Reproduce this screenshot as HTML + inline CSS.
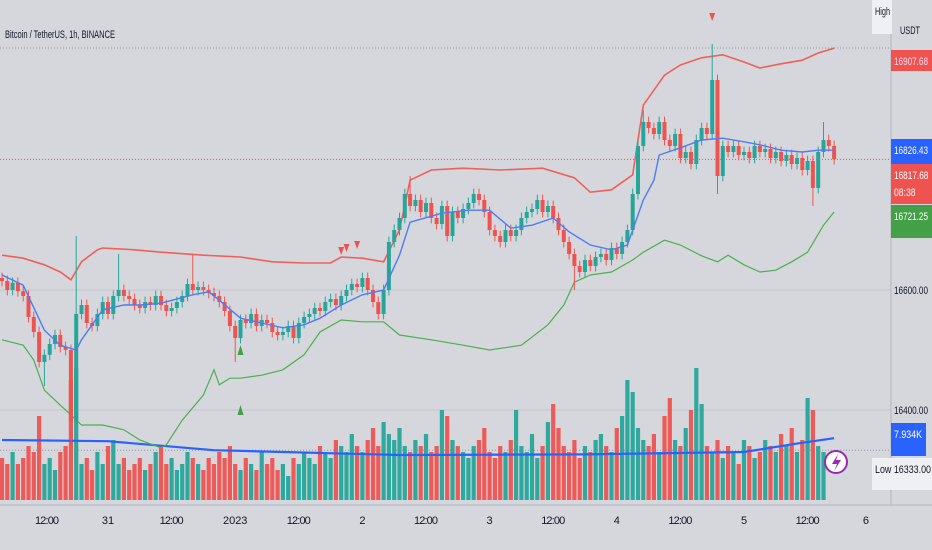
<!DOCTYPE html>
<html><head><meta charset="utf-8"><style>
body{margin:0;background:#d5d7dd;font-family:"Liberation Sans",sans-serif;}
#wrap{position:relative;width:932px;height:550px;overflow:hidden;background:#d5d7dd;}
svg text{font-family:"Liberation Sans",sans-serif;}
</style></head><body>
<div id="wrap">
<svg id="svg" width="932" height="550"></svg>
</div>
<script>
const closes=[16615,16600,16612,16598,16590,16555,16530,16480,16492,16510,16525,16505,16500,16380,16560,
16575,16545,16540,16560,16580,16560,16590,16600,
16590,16585,16575,16570,16580,16575,16590,16575,
16565,16570,16580,16590,16610,16600,16605,
16600,16595,16590,16580,16565,16540,16520,
16550,16545,16560,16540,16550,16545,16530,16525,
16530,16540,16520,16545,16555,16560,16570,16565,
16580,16585,16575,16590,16600,16610,16605,16620,
16600,16580,16560,16600,16680,
16700,16720,16760,16740,16750,16730,16745,
16720,16710,16740,16690,16730,16720,16735,16745,
16760,16750,16730,16700,16690,16680,16700,
16690,16700,16720,16730,16735,16750,16730,16740,
16720,16700,16680,16660,16640,16630,16650,16640,
16655,16660,16650,16670,16660,16680,16700,
16760,16840,16880,
16870,16860,16880,16850,16840,16860,16820,16830,16810,
16850,16870,16860,16950,16790,16840,
16830,16840,16825,16830,16820,16840,16830,16835,16820,16830,16815,16825,
16810,16820,16800,16815,16770,16830,16850,16840,16818];
const firstOpen=16620;
const spikeHigh={14:16690,22:16660,36:16660,77:16790,121:16900,134:17010,155:16880};
const spikeLow={13:16330,8:16440,44:16480,135:16760,153:16740,108:16600};
const volumes=[7,6,8,6,7,9,8,14,6,7,5,8,9,20,22,6,7,5,8,6,9,10,6,7,5,6,7,5,6,8,9,6,7,5,6,8,7,6,5,7,6,8,7,9,6,
5,7,6,5,8,6,7,5,6,4,7,6,8,7,6,9,8,7,10,9,8,11,9,8,10,12,9,13,11,
10,12,9,8,10,9,11,8,9,15,14,10,9,8,7,9,10,12,8,7,9,8,10,15,9,8,11,7,9,13,16,12,9,8,10,7,9,8,10,11,9,8,12,14,
20,18,12,10,9,11,8,14,17,10,9,12,15,22,16,9,8,10,7,9,8,6,10,9,7,8,10,9,8,11,9,12,8,10,17,15,9,8];
const upperBand=[[0,16658],[4,16653],[8,16642],[11,16630],[13,16617],[15,16647],[18,16667],[19,16670],[25,16667],[30,16663],[38,16658],[45,16655],[51,16647],[57,16645],[62,16645],[64,16655],[68,16653],[72,16647],[75,16700],[77,16783],[81,16800],[87,16803],[94,16800],[102,16803],[108,16787],[111,16763],[115,16767],[119,16792],[121,16908],[125,16958],[128,16975],[132,16987],[136,16992],[140,16980],[143,16970],[147,16977],[151,16983],[154,16995],[157,17003]];
const lowerBand=[[0,16517],[4,16508],[6,16483],[8,16433],[11,16408],[13,16392],[15,16375],[19,16375],[23,16367],[26,16350],[30,16337],[31,16342],[34,16383],[38,16425],[40,16467],[41,16442],[43,16453],[45,16453],[49,16458],[53,16467],[57,16492],[60,16530],[64,16550],[68,16547],[72,16547],[75,16525],[81,16517],[87,16508],[92,16500],[98,16508],[103,16542],[106,16575],[108,16613],[111,16625],[115,16630],[119,16650],[121,16663],[125,16683],[128,16675],[132,16657],[135,16647],[137,16658],[140,16642],[143,16630],[146,16633],[149,16647],[152,16663],[155,16708],[157,16730]];
const emaLine=[[0,16625],[4,16608],[8,16533],[11,16508],[14,16500],[15,16517],[19,16567],[23,16575],[26,16575],[30,16578],[36,16592],[39,16597],[41,16583],[45,16553],[49,16545],[53,16537],[57,16542],[60,16553],[64,16575],[68,16592],[72,16600],[75,16658],[77,16713],[83,16728],[88,16733],[92,16733],[96,16703],[100,16708],[104,16720],[107,16697],[111,16675],[115,16667],[118,16675],[121,16750],[123,16783],[124,16825],[128,16837],[132,16850],[136,16853],[140,16847],[143,16842],[147,16833],[151,16830],[154,16833],[157,16833]];
const volMA=[[0,10],[20,9.8],[40,8.3],[75,7.5],[110,7.6],[140,8.0],[150,9.4],[157,10.3]];
const timeLabels=[["12:00",8.5],["31",20],["12:00",32],["2023",44],["12:00",56],["2",68],["12:00",80],["3",92],["12:00",104],["4",116],["12:00",128],["5",140],["12:00",152],["6",163]];
const priceTicks=[16600,16400];
const sellSignals=[[64,16665],[65,16670],[67,16675],[134,17055]];
const buySignals=[[45,16500],[45,16400]];

const NS="http://www.w3.org/2000/svg";
const svg=document.getElementById('svg');
const X=i=>2+i*5.3;
const Y=p=>290-(p-16600)*0.6;
const VY=v=>500-v*6;
function el(tag,attrs,parent){const e=document.createElementNS(NS,tag);for(const k in attrs)e.setAttribute(k,attrs[k]);(parent||svg).appendChild(e);return e;}
function txt(s,attrs){const t=el('text',attrs);t.textContent=s;return t;}
priceTicks.forEach(p=>{const g=el('line',{x1:0,x2:890,y1:Y(p),y2:Y(p),stroke:'#c3c6cd','stroke-width':1});

});
let hl=el('line',{x1:0,x2:890,y1:48,y2:48,stroke:'#9598a1','stroke-dasharray':'1,2'});


let ll=el('line',{x1:0,x2:890,y1:Y(16333),y2:Y(16333),stroke:'#9598a1','stroke-dasharray':'1,2'});


volumes.forEach((v,i)=>{const o=i?closes[i-1]:firstOpen;const up=closes[i]>=o;
const r=el('rect',{x:X(i)-2.1,y:VY(v),width:4.2,height:v*6,fill:up?'#26a69a':'#ef5350',opacity:0.95});

});
function pathOf(arr,xf,yf){return arr.map((d,k)=>(k?'L':'M')+xf(d[0]).toFixed(1)+','+yf(d[1]).toFixed(1)).join('');}
let vm=el('path',{d:pathOf(volMA,X,VY),fill:'none',stroke:'#2962ff','stroke-width':2.2});


let ub=el('path',{d:pathOf(upperBand,X,Y),fill:'none',stroke:'#f0605a','stroke-width':1.6});


let lb=el('path',{d:pathOf(lowerBand,X,Y),fill:'none',stroke:'#4caf50','stroke-width':1.2});


closes.forEach((c,i)=>{const o=i?closes[i-1]:firstOpen;const up=c>=o;const col=up?'#26a69a':'#ef5350';
const hi=spikeHigh[i]!==undefined?spikeHigh[i]:Math.max(o,c)+9;
const lo=spikeLow[i]!==undefined?spikeLow[i]:Math.min(o,c)-9;
const w=el('line',{x1:X(i),x2:X(i),y1:Y(hi),y2:Y(lo),stroke:col,'stroke-width':1});


const b=el('rect',{x:X(i)-2,y:Y(Math.max(o,c)),width:4,height:Math.max(1,Math.abs(Y(o)-Y(c))),fill:col});

});
let em=el('path',{d:pathOf(emaLine,X,Y),fill:'none',stroke:'#4f7cf0','stroke-width':1.4});


let cp=el('line',{x1:0,x2:890,y1:Y(16817.68),y2:Y(16817.68),stroke:'#ef5350','stroke-dasharray':'1,2'});


sellSignals.forEach(s=>{const x=X(s[0]),y=Y(s[1]);const t=el('path',{d:`M${x-3},${y-4}L${x+3},${y-4}L${x},${y+4}Z`,fill:'#ef5350'});

});
buySignals.forEach(s=>{const x=X(s[0]),y=Y(s[1]);const t=el('path',{d:`M${x-3},${y+5}L${x+3},${y+5}L${x},${y-5}Z`,fill:'#43a047'});

});
let lc=el('circle',{cx:836,cy:462,r:11,fill:'#fff',stroke:'#9c27b0','stroke-width':2});


el('path',{d:'M838,454L832,464L837,464L834,471L841,460L836,460Z',fill:'#9c27b0'});
let ax=el('line',{x1:891,x2:891,y1:0,y2:505,stroke:'#b2b5be'});


let bx=el('line',{x1:0,x2:932,y1:505,y2:505,stroke:'#b2b5be'});


timeLabels.forEach(t=>{const e=txt(t[0],{x:X(t[1]),y:524,'font-size':11,fill:'#131722','text-anchor':'middle'});
if(t[0].length===5)e.setAttribute('textLength',24);

});
priceTicks.forEach(p=>{const e=txt(p.toFixed(2),{x:894,y:Y(p)+4,'font-size':11,fill:'#131722',textLength:34,lengthAdjust:'spacingAndGlyphs'});

});
function badge(name,x,y,w,h,fill,lines,color,tl){const r=el('rect',{x:x,y:y,width:w,height:h,fill:fill});


lines.forEach((s,k)=>{const t=txt(s,{x:x+3,y:y+15+k*17,'font-size':11,fill:color,textLength:tl||s.length*4.3,lengthAdjust:'spacingAndGlyphs'});});}
badge('top-band-label',891,50,58,21,'#ef5350',['16907.68'],'#fde',34);
badge('ema-price-label',891,139,58,25,'#2962ff',['16826.43'],'#fff',34);
badge('last-price-label',891,164,58,40,'#ef5350',['16817.68','08:38'],'#fff');
badge('lower-band-label',891,205,58,33,'#43a047',['16721.25'],'#fff',34);
badge('volume-label',891,423,35,33,'#2962ff',['7.934K'],'#fff',28);
badge('high-label',872,0,20,34,'#eef0f3',['High'],'#131722',15);
badge('low-label',872,458,78,32,'#eef0f3',['Low    16333.00'],'#131722',56);
let us=txt('USDT',{x:900,y:34,'font-size':11,fill:'#131722',textLength:20,lengthAdjust:'spacingAndGlyphs'});


let ti=txt('Bitcoin / TetherUS, 1h, BINANCE',{x:5,y:38,'font-size':11,fill:'#131722',textLength:110,lengthAdjust:'spacingAndGlyphs'});


</script>
</body></html>
